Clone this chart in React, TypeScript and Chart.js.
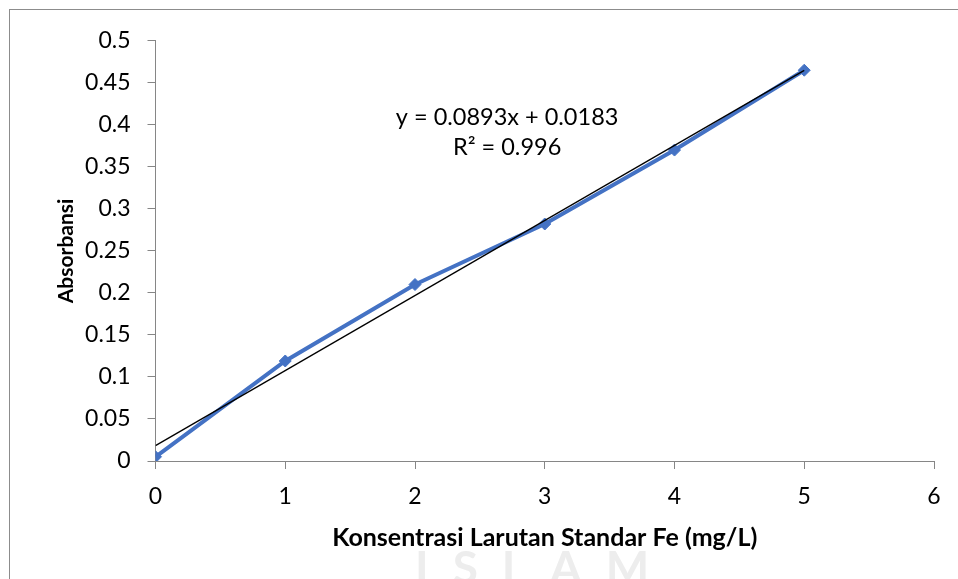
import React, { useEffect, useRef } from "react";
import { Chart, registerables } from "chart.js";

Chart.register(...registerables);

// Data
const concentrations = [0, 1, 2, 3, 4, 5];
const absorbances = [0.005, 0.119, 0.21, 0.282, 0.37, 0.465];
const trendSlope = 0.0893;
const trendIntercept = 0.0183;
const equationLines = ["y = 0.0893x + 0.0183", "R² = 0.996"];
const xTitle = "Konsentrasi Larutan Standar Fe (mg/L)";
const yTitle = "Absorbansi";
const watermarkText = "ISLAM";

const FONT = "Lato, 'Open Sans', sans-serif";
const AXIS_GRAY = "#868686";

export default function App() {
  const ref = useRef<HTMLCanvasElement | null>(null);

  useEffect(() => {
    if (!ref.current) return;
    const trendX = [concentrations[0], concentrations[concentrations.length - 1]];

    const overlay = {
      id: "overlay",
      beforeDraw(chart: any) {
        const ctx = chart.ctx;
        ctx.save();
        ctx.fillStyle = "#ededed";
        ctx.font = `bold 46px ${FONT}`;
        try { (ctx as any).letterSpacing = "24px"; } catch (e) {}
        ctx.textAlign = "left";
        ctx.textBaseline = "top";
        ctx.fillText(watermarkText, 405, 536);
        ctx.restore();
      },
      afterDatasetsDraw(chart: any) {
        const ctx = chart.ctx;
        const xs = chart.scales.x;
        const ys = chart.scales.y;
        ctx.save();
        ctx.fillStyle = "#000";
        ctx.font = `23.5px ${FONT}`;
        ctx.textAlign = "center";
        ctx.textBaseline = "middle";
        const cx = xs.getPixelForValue(2.71);
        ctx.fillText(equationLines[0], cx, ys.getPixelForValue(0.4088));
        ctx.fillText(equationLines[1], cx, ys.getPixelForValue(0.3733));
        ctx.restore();
      },
    };

    const chart = new Chart(ref.current, {
      type: "scatter",
      data: {
        datasets: [
          {
            label: "Absorbansi",
            data: concentrations.map((x, i) => ({ x, y: absorbances[i] })),
            showLine: true,
            borderColor: "#4472C4",
            backgroundColor: "#4472C4",
            borderWidth: 4,
            pointStyle: "rectRot",
            pointRadius: 6,
            pointBorderWidth: 1,
            pointBorderColor: "#4472C4",
            pointBackgroundColor: "#4472C4",
            order: 2,
          },
          {
            label: "Linear",
            data: trendX.map((x) => ({ x, y: trendSlope * x + trendIntercept })),
            showLine: true,
            borderColor: "#000000",
            borderWidth: 1.3,
            pointRadius: 0,
            order: 1,
          },
        ],
      },
      options: {
        animation: false,
        responsive: false,
        layout: { padding: { left: 44, top: 28, right: 24, bottom: 26 } },
        plugins: {
          legend: { display: false },
          tooltip: { enabled: false },
        },
        scales: {
          x: {
            type: "linear",
            min: 0,
            max: 6,
            afterFit: (s: any) => { s.height = 92; },
            ticks: {
              stepSize: 1,
              color: "#000",
              font: { family: FONT, size: 23 },
              padding: 14,
            },
            grid: {
              display: true,
              drawOnChartArea: false,
              drawTicks: true,
              tickLength: 8,
              color: AXIS_GRAY,
            },
            border: { color: AXIS_GRAY, width: 1 },
            title: {
              display: true,
              text: xTitle,
              color: "#000",
              font: { family: FONT, size: 25, weight: "bold" },
              padding: 0,
            },
          },
          y: {
            type: "linear",
            min: 0,
            max: 0.5,
            afterFit: (s: any) => { s.width = 101.5; },
            ticks: {
              stepSize: 0.05,
              color: "#000",
              font: { family: FONT, size: 23 },
              padding: 17,
              callback: (v: any) => String(Math.round(Number(v) * 100) / 100),
            },
            grid: {
              display: true,
              drawOnChartArea: false,
              drawTicks: true,
              tickLength: 8,
              color: AXIS_GRAY,
            },
            border: { color: AXIS_GRAY, width: 1 },
            title: {
              display: true,
              text: yTitle,
              color: "#000",
              font: { family: FONT, size: 21, weight: "bold" },
              padding: 0,
            },
          },
        },
      },
      plugins: [overlay],
    });
    return () => chart.destroy();
  }, []);

  return (
    <div
      style={{
        position: "fixed",
        left: 9,
        top: 9,
        width: 949,
        height: 570,
        borderLeft: "1px solid #8c8c8c",
        borderTop: "1px solid #8c8c8c",
        background: "#fff",
      }}
    >
      <canvas ref={ref} width={948} height={569} style={{ display: "block" }} />
    </div>
  );
}
